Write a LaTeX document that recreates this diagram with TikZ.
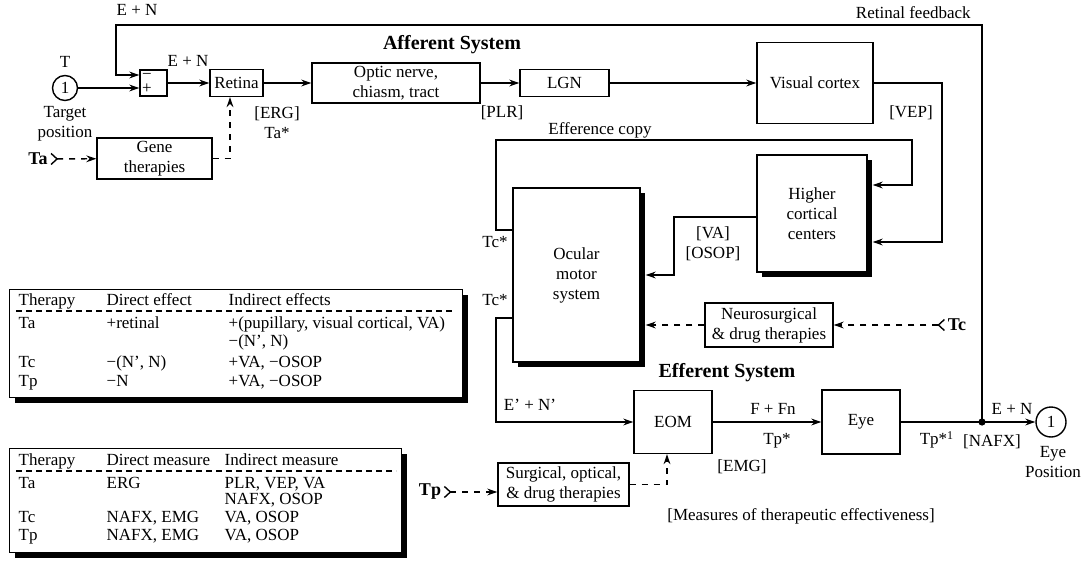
\documentclass[tikz,border=0pt]{standalone}
\usepackage{fontspec}
\setmainfont{Liberation Serif}
\usetikzlibrary{arrows.meta, shadows, calc}

\begin{document}
\begin{tikzpicture}
[x=0.5pt, y=-0.5pt, line width=0.7pt, font=\fontsize{8.5}{10}\selectfont,
 block/.style={draw, fill=white, align=center, inner sep=1pt},
 big block/.style={block, drop shadow={shadow xshift=2.5pt, shadow yshift=-2.5pt, fill=black, opacity=1}},
 signal/.style={-{Stealth[length=5pt, width=3.4pt]}},
 therapy/.style={signal, dash pattern=on 3pt off 3pt},
 therapy input/.style={{Straight Barb[reversed, length=3pt, width=5.5pt]}-{Stealth[length=5pt, width=3.4pt]}, dash pattern=on 3pt off 3pt},
 system/.style={font=\fontsize{10}{12}\selectfont\bfseries},
 source/.style={font=\fontsize{9}{10}\selectfont\bfseries, inner sep=1pt},
 cell/.style={anchor=west, inner sep=0pt, text height=1.5ex, text depth=0.4ex},
 port/.style={circle, draw, inner sep=0pt}]
\useasboundingbox (0,0) rectangle (1083,562);

\node[port, minimum size=12.5pt] (target) at (65,88) {1};
\node[block, minimum width=13.5pt, minimum height=13pt] (comparator) at (153.5,83) {};
\node[inner sep=0pt] at (147,76) {−};
\node[inner sep=0pt] at (147,89) {+};
\node[block, minimum width=26.5pt, minimum height=13.5pt] (retina) at (236.5,83) {Retina};
\node[block, minimum width=84pt, minimum height=20pt] (optic nerve) at (396,83) {Optic nerve,\\chiasm, tract};
\node[block, minimum width=44.5pt, minimum height=13.5pt] (lgn) at (564.5,83) {LGN};
\node[block, minimum width=58pt, minimum height=40.5pt] (visual cortex) at (815,83) {Visual cortex};
\node[block, minimum width=57.5pt, minimum height=20.5pt] (gene therapies) at (154.5,158.5) {Gene\\therapies};
\node[big block, minimum width=55pt, minimum height=58.5pt] (higher centers) at (812,213.5) {Higher\\cortical\\centers};
\node[big block, minimum width=63.5pt, minimum height=87pt] (ocular motor) at (576.5,275) {Ocular\\motor\\system};
\node[block, minimum width=64pt, minimum height=22pt] (neurosurgical) at (769,325) {Neurosurgical\\\& drug therapies};
\node[block, minimum width=39pt, minimum height=31.5pt] (eom) at (673,422) {EOM};
\node[block, minimum width=39pt, minimum height=32pt] (eye) at (861,422) {Eye};
\node[port, minimum size=15pt] (eye position) at (1051,422) {1};
\node[block, minimum width=65.5pt, minimum height=21.5pt] (surgical) at (563.5,484.5) {Surgical, optical,\\\& drug therapies};

\node[source] (ta) at (38,159) {Ta};
\node[source] (tc) at (957,325) {Tc};
\node[source] (tp) at (430,492) {Tp};

\coordinate (junction) at (982,422);
\coordinate (feedback corner) at (116,25);
\coordinate (vep corner) at (942,242);
\coordinate (copy left) at (496,140);
\coordinate (copy right) at (912,185);
\coordinate (va corner) at (674,275);
\coordinate (motor corner) at (496,422);

\draw[signal] (target) -- (target -| comparator.west);
\draw[signal] (junction) |- (feedback corner) |- ([yshift=4pt]comparator.west);
\foreach \a/\b in {comparator/retina, retina/optic nerve, optic nerve/lgn, lgn/visual cortex, eom/eye, eye/eye position}
	\draw[signal] (\a) -- (\b);
\draw[signal] (visual cortex) -| (vep corner) -- ($(vep corner -| higher centers.east)+(5,0)$);
\draw[signal] ([yshift=22.5pt]ocular motor.west) -| (copy left) -| (copy right) -- ($(copy right -| higher centers.east)+(5,0)$);
\draw[signal] ([yshift=-1.75pt]higher centers.west) -| (va corner) -- ($(va corner -| ocular motor.east)+(5,0)$);
\draw[signal] ([yshift=-21.5pt]ocular motor.west) -| (motor corner) -- (eom);
\fill (junction) circle (1.8pt);

\draw[therapy input] (ta) -- (gene therapies);
\draw[therapy] (gene therapies) -| ([xshift=-3.25pt]retina.south);
\draw[therapy input] (tc) -- (neurosurgical);
\draw[therapy] (neurosurgical) -- ($(neurosurgical -| ocular motor.east)+(5,0)$);
\draw[therapy input] (tp) -- (tp -| surgical.west);
\draw[therapy] (surgical) -| ([xshift=-3pt]eom.south);

\node at (137,10) {E + N};
\node[anchor=east] at (978,13) {Retinal feedback};
\node at (65,62) {T};
\node[align=center] at (65,124) {Target\\position};
\node at (188,61) {E + N};
\node[align=center] at (277,123) {[ERG]\\Ta*};
\node at (502,113) {[PLR]};
\node[system] at (452,45) {Afferent System};
\node at (911,113) {[VEP]};
\node at (600,130) {Efference copy};
\node at (495,242) {Tc*};
\node at (495,300) {Tc*};
\node[align=center] at (713,244) {[VA]\\{}[OSOP]};
\node[system] at (727,373) {Efferent System};
\node at (530,405) {E’ + N’};
\node at (773,409) {F + Fn};
\node at (777,441) {Tp*};
\node at (742,467) {[EMG]};
\node at (937,440) {Tp*\textsuperscript{1}};
\node at (992,442) {[NAFX]};
\node at (1012,409) {E + N};
\node[align=center] at (1053,462) {Eye\\Position};
\node at (801,516) {[Measures of therapeutic effectiveness]};

\node[big block, minimum width=226.5pt, minimum height=54pt, anchor=north west] (effects) at (9,289) {};
\draw[dash pattern=on 3pt off 2pt] (16,311) -- (455,311);
\foreach \y/\a/\b/\c in {300/Therapy/Direct effect/Indirect effects, 323/Ta/+retinal/{+(pupillary, visual cortical, VA)}, 341/{}/{}/{−(N’, N)}, 362/Tc/{−(N’, N)}/{+VA, −OSOP}, 381/Tp/−N/{+VA, −OSOP}}{
	\node[cell] at (18,\y) {\a};
	\node[cell] at (106,\y) {\b};
	\node[cell] at (228,\y) {\c};
}

\node[big block, minimum width=196pt, minimum height=52pt, anchor=north west] (measures) at (9,448) {};
\draw[dash pattern=on 3pt off 2pt] (16,471) -- (396,471);
\foreach \y/\a/\b/\c in {460/Therapy/Direct measure/Indirect measure, 483/Ta/ERG/{PLR, VEP, VA}, 499/{}/{}/{NAFX, OSOP}, 517/Tc/{NAFX, EMG}/{VA, OSOP}, 535/Tp/{NAFX, EMG}/{VA, OSOP}}{
	\node[cell] at (18,\y) {\a};
	\node[cell] at (106,\y) {\b};
	\node[cell] at (224,\y) {\c};
}
\end{tikzpicture}
\end{document}
